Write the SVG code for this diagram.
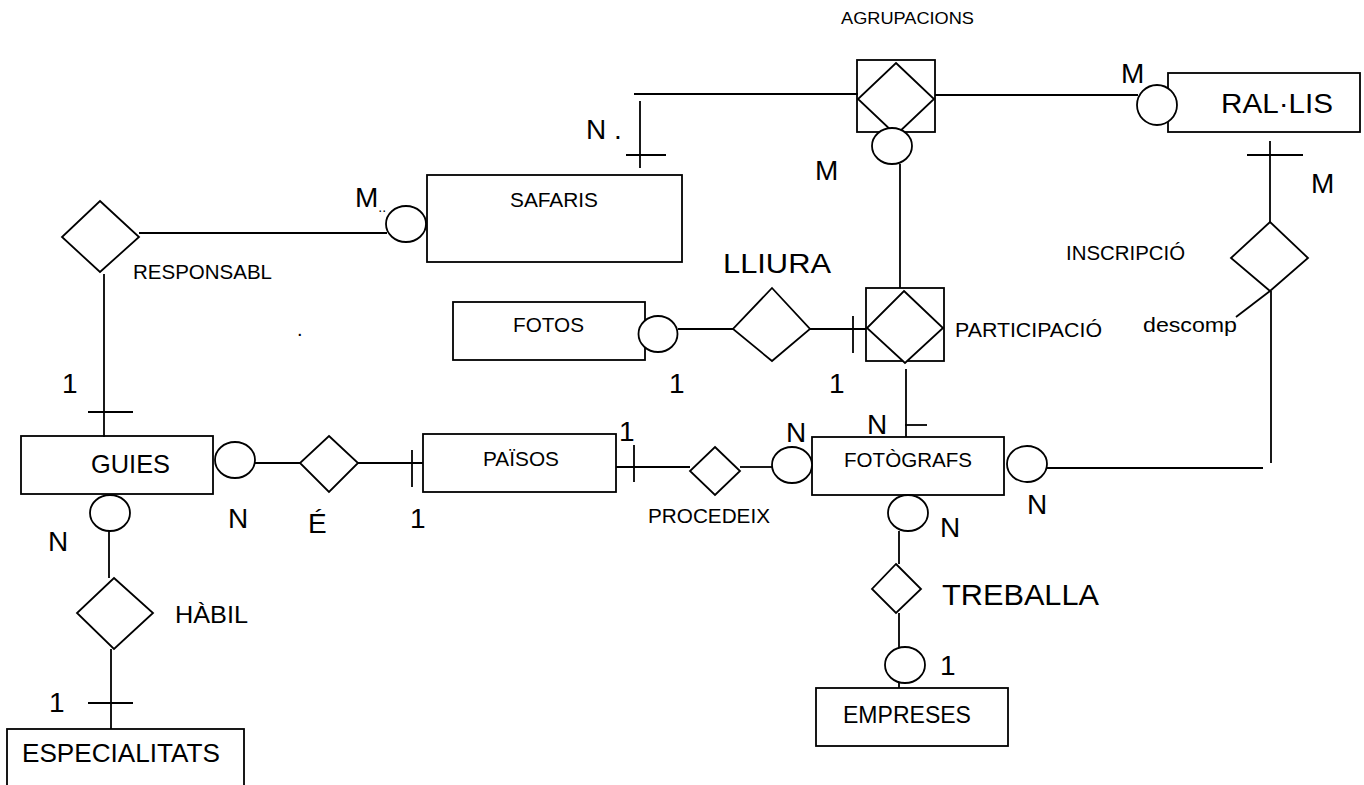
<svg xmlns="http://www.w3.org/2000/svg" width="1364" height="785" viewBox="0 0 1364 785">
<style>
.s{fill:#fff;stroke:#000;stroke-width:1.8}
.l{fill:none;stroke:#000;stroke-width:1.8}
text{font-family:"Liberation Sans",Arial,sans-serif;fill:#000}
.t{font-size:21px}
.c{font-size:28px}
</style>
<rect width="1364" height="785" fill="#fff"/>
<g id="agrupacions">
  <rect class="s" x="857" y="60" width="78" height="72"/>
  <polygon class="s" points="896,63 934,99 896,135 858,99"/>
  <text x="841" y="24" font-size="17" textLength="133" lengthAdjust="spacingAndGlyphs">AGRUPACIONS</text>
</g>
<g id="ralslis">
  <rect class="s" x="1168" y="73" width="192" height="59"/>
  <text x="1221" y="113" font-size="27" textLength="112" lengthAdjust="spacingAndGlyphs">RAL·LIS</text>
</g>
<g id="inscripcio">
  <polygon class="s" points="1270,222 1308,258 1270,291 1231,258"/>
  <text class="t" x="1066" y="260" textLength="119" lengthAdjust="spacingAndGlyphs">INSCRIPCIÓ</text>
  <text x="1143" y="332" font-size="21" textLength="94" lengthAdjust="spacingAndGlyphs">descomp</text>
</g>
<g id="safaris">
  <rect class="s" x="427" y="175" width="255" height="87"/>
  <text class="t" x="510" y="207" textLength="88" lengthAdjust="spacingAndGlyphs">SAFARIS</text>
</g>
<g id="responsabl">
  <polygon class="s" points="100,201 139,237 100,272 62,237"/>
  <text class="t" x="133" y="279" textLength="139" lengthAdjust="spacingAndGlyphs">RESPONSABL</text>
</g>
<g id="fotos">
  <rect class="s" x="453" y="302" width="192" height="58"/>
  <text class="t" x="513" y="332" textLength="71" lengthAdjust="spacingAndGlyphs">FOTOS</text>
</g>
<g id="lliura">
  <polygon class="s" points="772,288 810,329 772,361 733,329"/>
  <text x="723" y="273" font-size="27" textLength="108" lengthAdjust="spacingAndGlyphs">LLIURA</text>
</g>
<g id="participacio">
  <rect class="s" x="866" y="288" width="78" height="73"/>
  <polygon class="s" points="904,291 943,328 905,363 867,328"/>
  <text class="t" x="955" y="337" textLength="147" lengthAdjust="spacingAndGlyphs">PARTICIPACIÓ</text>
</g>
<g id="guies">
  <rect class="s" x="21" y="436" width="192" height="58"/>
  <text x="91" y="473" font-size="25" textLength="79" lengthAdjust="spacingAndGlyphs">GUIES</text>
</g>
<g id="e">
  <polygon class="s" points="329,436 358,463 329,492 300,463"/>
</g>
<g id="paisos">
  <rect class="s" x="423" y="434" width="193" height="58"/>
  <text class="t" x="483" y="466" textLength="76" lengthAdjust="spacingAndGlyphs">PAÏSOS</text>
</g>
<g id="procedeix">
  <polygon class="s" points="715,447 740,471 715,495 690,471"/>
  <text class="t" x="648" y="523" textLength="122" lengthAdjust="spacingAndGlyphs">PROCEDEIX</text>
</g>
<g id="fotografs">
  <rect class="s" x="812" y="437" width="192" height="58"/>
  <text class="t" x="844" y="467" textLength="128" lengthAdjust="spacingAndGlyphs">FOTÒGRAFS</text>
</g>
<g id="treballa">
  <polygon class="s" points="896,564 921,589 896,613 872,589"/>
  <text x="942" y="605" font-size="30" textLength="157" lengthAdjust="spacingAndGlyphs">TREBALLA</text>
</g>
<g id="empreses">
  <rect class="s" x="816" y="688" width="192" height="58"/>
  <text x="843" y="723" font-size="23" textLength="128" lengthAdjust="spacingAndGlyphs">EMPRESES</text>
</g>
<g id="habil">
  <polygon class="s" points="114,578 153,613 114,649 77,613"/>
  <text x="175" y="623" font-size="24" textLength="73" lengthAdjust="spacingAndGlyphs">HÀBIL</text>
</g>
<g id="especialitats">
  <rect class="s" x="7" y="729" width="237" height="70"/>
  <text x="22" y="762" font-size="25" textLength="198" lengthAdjust="spacingAndGlyphs">ESPECIALITATS</text>
</g>
<g id="connectors">
  <line class="l" x1="634" y1="94" x2="858" y2="94"/>
  <line class="l" x1="640" y1="101" x2="640" y2="168"/>
  <line class="l" x1="626" y1="155" x2="666" y2="155"/>
  <line class="l" x1="935" y1="95" x2="1138" y2="95"/>
  <line class="l" x1="900" y1="164" x2="900" y2="288"/>
  <line class="l" x1="1270" y1="141" x2="1270" y2="222"/>
  <line class="l" x1="1247" y1="155" x2="1303" y2="155"/>
  <line class="l" x1="1271" y1="291" x2="1271" y2="463"/>
  <line class="l" x1="1236" y1="317" x2="1270" y2="291"/>
  <line class="l" x1="1047" y1="468" x2="1263" y2="468"/>
  <line class="l" x1="139" y1="233" x2="387" y2="233"/>
  <line class="l" x1="104" y1="274" x2="104" y2="437"/>
  <line class="l" x1="88" y1="412" x2="133" y2="412"/>
  <line class="l" x1="678" y1="329" x2="733" y2="329"/>
  <line class="l" x1="810" y1="329" x2="866" y2="329"/>
  <line class="l" x1="853" y1="316" x2="853" y2="353"/>
  <line class="l" x1="906" y1="369" x2="906" y2="437"/>
  <line class="l" x1="905" y1="425" x2="927" y2="425"/>
  <line class="l" x1="255" y1="463" x2="300" y2="463"/>
  <line class="l" x1="358" y1="463" x2="423" y2="463"/>
  <line class="l" x1="412" y1="450" x2="412" y2="487"/>
  <line class="l" x1="616" y1="467" x2="690" y2="467"/>
  <line class="l" x1="634" y1="445" x2="634" y2="482"/>
  <line class="l" x1="740" y1="467" x2="772" y2="467"/>
  <line class="l" x1="899" y1="531" x2="899" y2="564"/>
  <line class="l" x1="899" y1="613" x2="899" y2="648"/>
  <line class="l" x1="899" y1="683" x2="899" y2="688"/>
  <line class="l" x1="109" y1="531" x2="109" y2="578"/>
  <line class="l" x1="111" y1="649" x2="111" y2="729"/>
  <line class="l" x1="88" y1="703" x2="133" y2="703"/>
  <ellipse class="s" cx="892" cy="146" rx="20" ry="18"/>
  <ellipse class="s" cx="1157" cy="105" rx="20" ry="20"/>
  <ellipse class="s" cx="406" cy="224" rx="20" ry="18"/>
  <ellipse class="s" cx="658" cy="334" rx="19.5" ry="18"/>
  <ellipse class="s" cx="235" cy="460" rx="20" ry="18"/>
  <ellipse class="s" cx="792" cy="465" rx="20" ry="18"/>
  <ellipse class="s" cx="1027" cy="464" rx="20" ry="18"/>
  <ellipse class="s" cx="908" cy="513" rx="20" ry="18"/>
  <ellipse class="s" cx="905" cy="665" rx="20" ry="18"/>
  <ellipse class="s" cx="110" cy="513" rx="20" ry="18"/>
  <text class="c" x="586" y="139">N .</text>
  <text class="c" x="815" y="180">M</text>
  <text class="c" x="1121" y="83">M</text>
  <text class="c" x="1311" y="193">M</text>
  <text class="c" x="355" y="207">M<tspan font-size="14" dy="5">..</tspan></text>
  <text class="c" x="62" y="393">1</text>
  <text class="c" x="669" y="393">1</text>
  <text class="c" x="829" y="393">1</text>
  <text class="c" x="867" y="434">N</text>
  <text class="c" x="786" y="442">N</text>
  <text class="c" x="619" y="441">1</text>
  <text class="c" x="228" y="528">N</text>
  <text class="c" x="308" y="533">É</text>
  <text class="c" x="410" y="528">1</text>
  <text class="c" x="1027" y="514">N</text>
  <text class="c" x="940" y="537">N</text>
  <text class="c" x="940" y="675">1</text>
  <text class="c" x="48" y="551">N</text>
  <text class="c" x="49" y="712">1</text>
  <text x="297" y="336" font-size="20">.</text>
</g>
</svg>
